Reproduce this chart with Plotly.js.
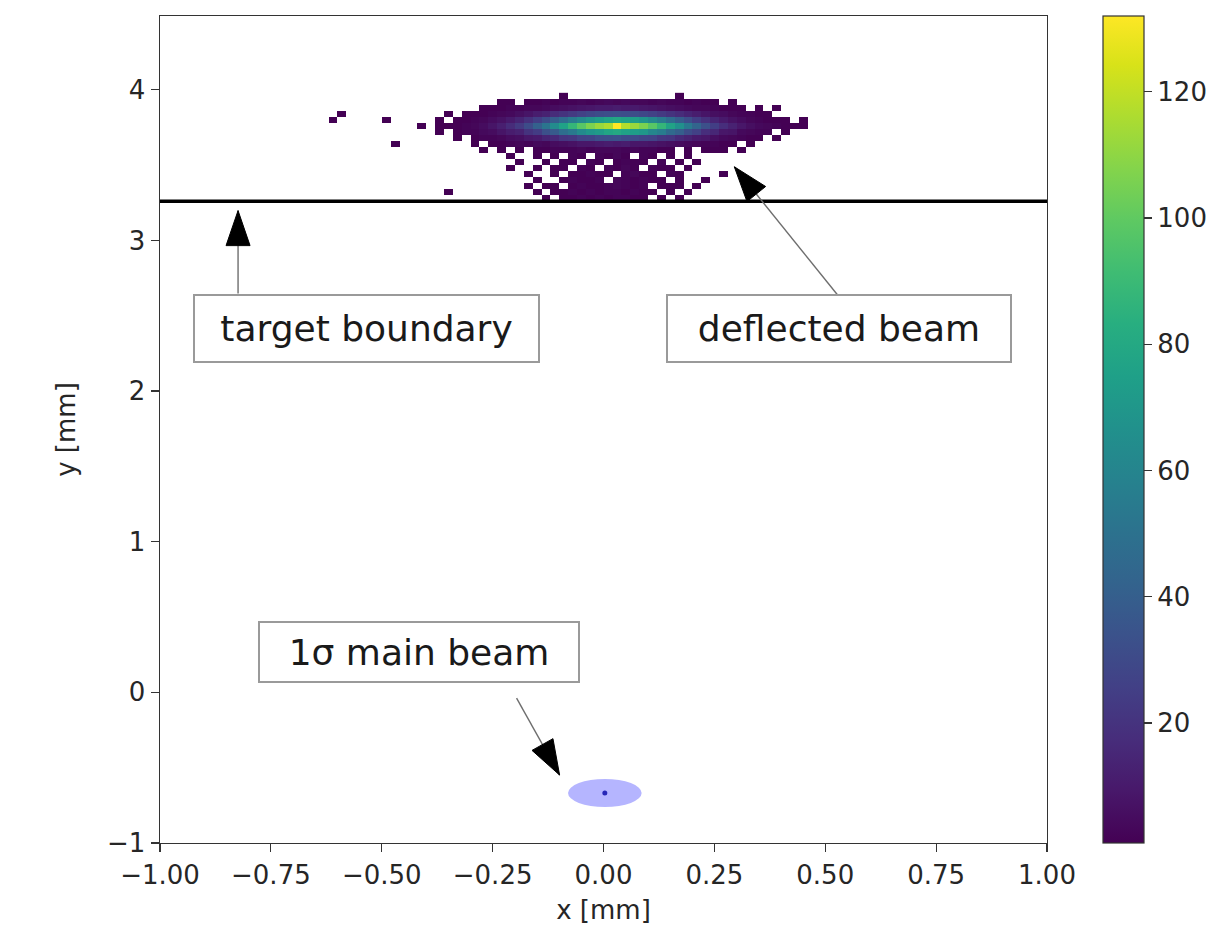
<!DOCTYPE html>
<html>
<head>
<meta charset="utf-8">
<script src="https://cdn.plot.ly/plotly-3.0.1.min.js"></script>
<style>
  html, body { margin: 0; padding: 0; background: #fff; }
  #chart { width: 1220px; height: 949px; }
</style>
</head>
<body>
<div id="chart"></div>
<script>
// ---- deflected beam: 2D histogram counts at the target exit ----
// bin geometry (mm)
const binX0 = -0.63, binDX = 0.02;   // centre of first column, column width
const binY0 = 3.28,  binDY = 0.04;   // centre of first row, row height

// counts per row, bottom (y = 3.28 mm) to top (y = 3.96 mm); 56 columns each
const countsY328 = [0,0,0,0,0,0,0,0,0,0, 0,0,0,0,0,0,0,0,0,0, 0,0,0,0,0,1,0,1,1,2, 1,2,1,2,2,1,1,0,1,0, 1,0,0,0,0,0,0,0,0,0, 0,0,0,0,0,0];
const countsY332 = [0,0,0,0,0,0,0,0,0,0, 0,0,0,0,1,0,0,0,0,0, 0,0,0,0,1,0,1,1,2,1, 2,1,2,2,1,2,1,1,0,1, 0,1,0,0,0,0,0,0,0,0, 0,0,0,0,0,0];
const countsY336 = [0,0,0,0,0,0,0,0,0,0, 0,0,0,0,0,0,0,0,0,0, 0,0,0,1,0,1,1,0,1,2, 1,1,2,3,2,1,2,0,1,1, 1,0,1,0,0,0,0,0,0,0, 0,0,0,0,0,0];
const countsY340 = [0,0,0,0,0,0,0,0,0,0, 0,0,0,0,0,0,0,0,0,0, 0,0,0,0,1,0,0,1,2,1, 1,2,0,3,2,1,2,1,1,0, 1,0,0,1,0,0,0,0,0,0, 0,0,0,0,0,0];
const countsY344 = [0,0,0,0,0,0,0,0,0,0, 0,0,0,0,0,0,0,0,0,0, 0,0,0,1,0,0,1,0,1,1, 2,1,1,0,2,3,1,1,0,2, 1,0,0,0,0,1,0,0,0,0, 0,0,0,0,0,0];
const countsY348 = [0,0,0,0,0,0,0,0,0,0, 0,0,0,0,0,0,0,0,0,0, 0,1,0,0,1,0,1,1,0,2, 1,0,2,1,3,1,0,2,1,1, 0,1,0,0,0,0,0,0,0,0, 0,0,0,0,0,0];
const countsY352 = [0,0,0,0,0,0,0,0,0,0, 0,0,0,0,0,0,0,0,0,0, 0,0,1,0,0,1,0,1,1,0, 2,1,0,1,2,1,1,0,2,0, 1,0,1,0,0,0,0,0,0,0, 0,0,0,0,0,0];
const countsY356 = [0,0,0,0,0,0,0,0,0,0, 0,0,0,0,0,0,0,0,0,0, 0,1,0,0,1,0,1,0,2,1, 0,2,1,3,1,0,2,1,0,1, 0,1,0,0,0,0,0,0,0,0, 0,0,0,0,0,0];
const countsY360 = [0,0,0,0,0,0,0,0,0,0, 0,0,0,0,0,0,0,0,1,0, 1,0,1,0,1,1,2,2,2,3, 2,3,3,3,2,3,2,2,1,1, 0,1,0,1,1,1,0,1,0,0, 0,0,0,0,0,0];
const countsY364 = [0,0,0,0,0,0,0,0,1,0, 0,0,0,0,0,0,0,1,0,1, 1,2,3,2,4,3,5,6,7,9, 9,10,11,10,11,9,9,8,7,6, 5,4,3,2,2,1,1,0,1,0, 0,0,0,0,0,0];
const countsY368 = [0,0,0,0,0,0,0,0,0,0, 0,0,0,0,0,1,0,1,2,2, 3,5,6,9,10,14,16,21,22,27, 28,32,33,34,31,30,28,27,22,21, 16,13,10,9,6,4,3,2,1,1, 0,1,0,0,0,0];
const countsY372 = [0,0,0,0,0,0,0,0,0,0, 0,0,0,1,0,1,2,2,4,5, 8,11,13,20,24,33,38,48,54,63, 69,72,78,80,76,73,70,61,56,46, 40,31,26,18,15,9,8,4,3,2, 2,0,1,0,0,0];
const countsY376 = [0,0,0,0,0,0,0,0,0,0, 0,1,0,1,1,1,2,3,5,8, 12,17,23,31,41,52,64,76,88,98, 106,112,116,132,117,112,106,98,88,77, 67,54,43,33,25,18,13,9,6,4, 3,2,1,1,1,0];
const countsY380 = [0,1,0,0,0,0,0,1,0,0, 0,0,0,1,0,1,1,2,3,5, 7,10,14,19,25,31,39,47,55,62, 68,73,77,79,77,74,69,62,55,47, 39,32,25,19,14,10,7,5,3,2, 1,1,1,0,1,0];
const countsY384 = [0,0,1,0,0,0,0,0,0,0, 0,0,0,0,1,0,1,1,1,2, 3,4,6,8,11,13,17,20,23,26, 29,31,32,33,32,31,29,26,23,20, 17,14,11,8,6,5,3,2,2,1, 1,0,0,0,0,0];
const countsY388 = [0,0,0,0,0,0,0,0,0,0, 0,0,0,0,0,0,0,0,1,1, 1,2,2,3,3,4,5,6,7,8, 9,10,10,11,10,10,9,8,7,6, 5,4,3,3,2,1,1,1,0,1, 0,1,0,0,0,0];
const countsY392 = [0,0,0,0,0,0,0,0,0,0, 0,0,0,0,0,0,0,0,0,0, 1,1,0,1,1,2,1,2,2,3, 2,3,4,3,4,3,3,2,3,2, 2,1,2,1,1,0,1,0,0,0, 0,0,0,0,0,0];
const countsY396 = [0,0,0,0,0,0,0,0,0,0, 0,0,0,0,0,0,0,0,0,0, 0,0,0,0,0,0,0,1,0,0, 0,0,0,0,0,0,0,0,0,0, 1,0,0,0,0,0,0,0,0,0, 0,0,0,0,0,0];

// colour scale limits and colour bar ticks
const countMin = 1, countMax = 132;
const colorbarTicks = [20, 40, 60, 80, 100, 120];

// ---- main beam (1 sigma) and target edge, mm ----
const mainBeamCentre = [0.003, -0.668];
const mainBeamSigma  = [0.083, 0.093];
const targetBoundaryY = 3.26;

// ---- axes ----
const xTicks = [-1, -0.75, -0.5, -0.25, 0, 0.25, 0.5, 0.75, 1];
const yTicks = [-1, 0, 1, 2, 3, 4];
const xRange = [-1, 1];
const yRange = [-1, 4.49];

// ---- labels and their arrows (tail at the box edge, tip at the feature) ----
const labelTexts = ['target boundary', 'deflected beam', '1σ main beam'];
const labelPos   = [[-0.535, 2.418], [0.532, 2.414], [-0.417, 0.267]];
const labelBox   = [[335, 57], [334, 57], [310, 50]];
const arrowTails = [[-0.824, 2.647], [0.527, 2.641], [-0.196, -0.038]];
const arrowTips  = [[-0.824, 3.198], [0.295, 3.489], [-0.099, -0.549]];

// ---------------------------------------------------------------
const W = 1220, H = 949;
const M = { l: 160, r: 171, t: 16, b: 106 };
const pxPerX = (W - M.l - M.r) / (xRange[1] - xRange[0]);
const pxPerY = (H - M.t - M.b) / (yRange[1] - yRange[0]);

const rows = [countsY328, countsY332, countsY336, countsY340, countsY344, countsY348,
              countsY352, countsY356, countsY360, countsY364, countsY368, countsY372,
              countsY376, countsY380, countsY384, countsY388, countsY392, countsY396];
// empty bins stay blank
const z = rows.map(r => r.map(v => (v > 0 ? v : null)));

const font = 'DejaVu Sans, Verdana, sans-serif';
const ink = '#262626';

const heat = {
  type: 'heatmap',
  z: z,
  x0: binX0, dx: binDX,
  y0: binY0, dy: binDY,
  zmin: countMin, zmax: countMax,
  colorscale: 'Viridis',
  zsmooth: false,
  hoverongaps: false,
  colorbar: {
    x: (1105 - M.l) / (W - M.l - M.r), xanchor: 'left', xpad: 0,
    y: 0.5, yanchor: 'middle', len: 1, lenmode: 'fraction', ypad: 0,
    thickness: 41,
    outlinewidth: 1.2, outlinecolor: '#333',
    tickmode: 'array', tickvals: colorbarTicks,
    ticks: 'outside', ticklen: 8, tickwidth: 1.2, tickcolor: '#333',
    tickfont: { family: font, size: 26, color: ink }
  }
};

const beamDot = {
  type: 'scatter', mode: 'markers',
  x: [mainBeamCentre[0]], y: [mainBeamCentre[1]],
  marker: { size: 5, color: '#1a1a8c' },
  hoverinfo: 'skip', showlegend: false
};

// arrow head as a filled triangle, sized in pixels, anchored at the tip
function arrowHead(tail, tip, len, width) {
  const dx = (tip[0] - tail[0]) * pxPerX, dy = (tip[1] - tail[1]) * pxPerY;
  const n = Math.hypot(dx, dy), ux = dx / n, uy = dy / n;
  const bx = -ux * len, by = -uy * len;
  const nx = -uy * width / 2, ny = ux * width / 2;
  const f = v => v.toFixed(2);
  return {
    type: 'path', xref: 'x', yref: 'y',
    xsizemode: 'pixel', ysizemode: 'pixel',
    xanchor: tip[0], yanchor: tip[1],
    path: `M0,0L${f(bx + nx)},${f(by + ny)}L${f(bx - nx)},${f(by - ny)}Z`,
    fillcolor: '#000', line: { color: '#000', width: 1 }
  };
}

const shapes = [
  {
    type: 'circle', xref: 'x', yref: 'y', layer: 'above',
    x0: mainBeamCentre[0] - mainBeamSigma[0], x1: mainBeamCentre[0] + mainBeamSigma[0],
    y0: mainBeamCentre[1] - mainBeamSigma[1], y1: mainBeamCentre[1] + mainBeamSigma[1],
    fillcolor: 'rgba(60,60,255,0.38)', line: { width: 0 }
  },
  {
    type: 'line', xref: 'paper', yref: 'y', x0: 0, x1: 1,
    y0: targetBoundaryY, y1: targetBoundaryY,
    line: { color: '#000', width: 3.5 }
  }
];
arrowTails.forEach((t, i) => {
  shapes.push({
    type: 'line', xref: 'x', yref: 'y',
    x0: t[0], y0: t[1], x1: arrowTips[i][0], y1: arrowTips[i][1],
    line: { color: '#6e6e6e', width: 1.4 }
  });
  shapes.push(arrowHead(t, arrowTips[i], 35, 24));
});

const annotations = labelTexts.map((txt, i) => ({
  x: labelPos[i][0], y: labelPos[i][1], xref: 'x', yref: 'y',
  text: txt, showarrow: false,
  xanchor: 'center', yanchor: 'middle',
  width: labelBox[i][0], height: labelBox[i][1],
  font: { family: font, size: 36, color: '#1a1a1a' },
  bgcolor: '#ffffff', bordercolor: '#9a9a9a', borderwidth: 2, borderpad: 4
}));

const axisCommon = {
  showgrid: false, zeroline: false,
  showline: true, linecolor: '#333', linewidth: 1.4, mirror: true,
  ticks: 'outside', ticklen: 8, tickwidth: 1.2, tickcolor: '#333',
  tickfont: { family: font, size: 26, color: ink },
  tickmode: 'array'
};

const layout = {
  width: W, height: H,
  margin: M,
  paper_bgcolor: '#fff', plot_bgcolor: '#fff',
  showlegend: false,
  xaxis: Object.assign({}, axisCommon, {
    range: xRange, tickvals: xTicks,
    ticktext: xTicks.map(v => (v < 0 ? '\u2212' : '') + Math.abs(v).toFixed(2)),
    title: { text: 'x [mm]', font: { family: font, size: 26, color: ink }, standoff: 12 }
  }),
  yaxis: Object.assign({}, axisCommon, {
    range: yRange, tickvals: yTicks,
    ticktext: yTicks.map(v => (v < 0 ? '\u2212' : '') + Math.abs(v)),
    title: { text: 'y [mm]', font: { family: font, size: 26, color: ink }, standoff: 24 }
  }),
  shapes: shapes,
  annotations: annotations
};

Plotly.newPlot('chart', [heat, beamDot], layout, { displayModeBar: false, staticPlot: true });
</script>
</body>
</html>
